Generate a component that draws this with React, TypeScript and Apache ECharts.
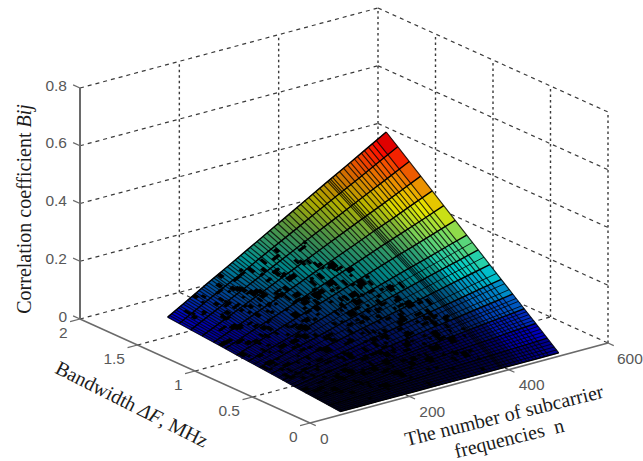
import React, { useEffect, useRef } from "react";
import * as echarts from "echarts";

const nTicks = [0, 200, 400, 600];
const bwTicks = [0, 0.5, 1, 1.5, 2];
const zTicks = [0, 0.2, 0.4, 0.6, 0.8];
const nTickLabels = ["0", "200", "400", "600"];
const bwTickLabels = ["0", "0.5", "1", "1.5", "2"];
const zTickLabels = ["0", "0.2", "0.4", "0.6", "0.8"];

// Surface: columns = number of subcarriers, rows = bandwidth
const surfaceN = [70, 110, 150, 190, 230, 270, 310, 350, 390, 430, 470, 510];
const surfaceBw = [0.04, 0.14, 0.24, 0.34, 0.44, 0.54, 0.64, 0.74, 0.84, 0.94, 1.04, 1.14, 1.24, 1.34, 1.44, 1.54];
const surfaceZ = [
  [0, 0, 0, 0, 0, 0, 0, 0, 0, 0, 0, 0],
  [0.004, 0.006, 0.009, 0.012, 0.014, 0.017, 0.02, 0.022, 0.025, 0.028, 0.03, 0.033],
  [0.008, 0.013, 0.018, 0.023, 0.029, 0.034, 0.039, 0.045, 0.05, 0.055, 0.061, 0.066],
  [0.011, 0.019, 0.027, 0.035, 0.043, 0.051, 0.059, 0.067, 0.075, 0.083, 0.091, 0.099],
  [0.015, 0.026, 0.037, 0.047, 0.058, 0.068, 0.079, 0.09, 0.1, 0.111, 0.121, 0.132],
  [0.019, 0.032, 0.046, 0.059, 0.072, 0.085, 0.099, 0.112, 0.125, 0.138, 0.152, 0.165],
  [0.023, 0.039, 0.055, 0.07, 0.086, 0.102, 0.118, 0.134, 0.15, 0.166, 0.182, 0.198],
  [0.027, 0.045, 0.064, 0.082, 0.101, 0.119, 0.138, 0.157, 0.175, 0.194, 0.212, 0.231],
  [0.03, 0.052, 0.073, 0.094, 0.115, 0.137, 0.158, 0.179, 0.201, 0.221, 0.243, 0.264],
  [0.034, 0.058, 0.082, 0.106, 0.13, 0.154, 0.178, 0.202, 0.226, 0.249, 0.273, 0.297],
  [0.038, 0.065, 0.091, 0.117, 0.144, 0.171, 0.197, 0.224, 0.251, 0.277, 0.303, 0.33],
  [0.042, 0.071, 0.1, 0.129, 0.158, 0.188, 0.217, 0.246, 0.276, 0.304, 0.334, 0.363],
  [0.046, 0.078, 0.11, 0.141, 0.173, 0.205, 0.237, 0.269, 0.301, 0.332, 0.364, 0.396],
  [0.049, 0.084, 0.119, 0.153, 0.187, 0.222, 0.257, 0.291, 0.326, 0.36, 0.394, 0.429],
  [0.053, 0.091, 0.128, 0.164, 0.202, 0.239, 0.276, 0.314, 0.351, 0.387, 0.425, 0.462],
  [0.057, 0.097, 0.137, 0.176, 0.216, 0.256, 0.296, 0.336, 0.376, 0.415, 0.455, 0.495],
];

// Mesh lines of the surface
const meshN = [70, 74, 78, 83, 87, 92, 96, 101, 105, 110, 114, 119, 124, 128, 133, 138, 142, 147, 152, 158, 163, 167, 172, 178, 183, 190, 195, 200, 206, 211, 217, 224, 230, 236, 243, 250, 255, 262, 270, 276, 284, 292, 300, 306, 314, 322, 330, 338, 346, 354, 362, 368, 376, 384, 392, 395, 398, 402, 408, 416, 424, 432, 438, 446, 452, 460, 466, 474, 482, 490, 510];
const extraBw = [0.06, 0.08, 0.1, 0.12, 0.16, 0.18, 0.2, 0.22, 0.26, 0.28, 0.3, 0.32, 0.36, 0.39, 0.41, 0.47, 0.51, 0.58, 0.69, 0.79];
const darkCells = [
  [120,1.45],[158,1.45],[196,1.45],
  [108,1.35],[140,1.35],[172,1.35],[214,1.35],[250,1.35],
  [128,1.27],[165,1.27],[190,1.27],[232,1.27],[272,1.27],
  [100,1.18],[150,1.18],[178,1.18],[208,1.18],[246,1.18],[290,1.18],
  [118,1.09],[136,1.09],[170,1.09],[224,1.09],[262,1.09],[300,1.09],
  [96,1.0],[146,1.0],[192,1.0],[214,1.0],[244,1.0],[282,1.0],[318,1.0],
  [112,0.92],[132,0.92],[176,0.92],[236,0.92],[268,0.92],[302,0.92],
  [92,0.84],[156,0.84],[186,0.84],[210,0.84],[254,0.84],[290,0.84],[332,0.84],
  [120,0.76],[142,0.76],[172,0.76],[226,0.76],[276,0.76],[312,0.76],[350,0.76],
  [104,0.68],[160,0.68],[198,0.68],[244,0.68],[262,0.68],[298,0.68],[336,0.68],
  [90,0.6],[130,0.6],[176,0.6],[216,0.6],[284,0.6],[322,0.6],[366,0.6],
  [112,0.53],[150,0.53],[196,0.53],[238,0.53],[270,0.53],[310,0.53],[352,0.53],
  [98,0.46],[140,0.46],[182,0.46],[228,0.46],[262,0.46],[300,0.46],[344,0.46],[380,0.46],
  [124,0.39],[168,0.39],[206,0.39],[250,0.39],[288,0.39],[330,0.39],[372,0.39],
  [88,0.32],[146,0.32],[190,0.32],[236,0.32],[276,0.32],[318,0.32],[360,0.32],
  [110,0.25],[160,0.25],[214,0.25],[256,0.25],[300,0.25],[346,0.25],
  [130,0.18],[180,0.18],[232,0.18],[280,0.18],[334,0.18],
];
const blockDn = [2.5, 3.5, 5, 2.5, 6, 3, 2.5, 7, 3.5];
const blockDb = [0.012, 0.02, 0.01, 0.018, 0.012, 0.025, 0.01];
const blockShift = [0, 0.022, -0.018, 0.034, -0.03, 0.012, -0.008, 0.026];
const blockSpreadN = [0, 9, -8, 13, -12, 6, -5];
const blockSpreadB = [0, 0.032, -0.036, -0.02, 0.044, -0.05, 0.028];

// How much the dense black mesh dims each region of the surface
const shadeN = [0.85, 0.7, 0.62, 0.6, 0.6, 0.6, 0.62, 0.7, 0.78, 0.9, 1, 1];
const shadeBw = [0.55, 0.5, 0.55, 0.6, 0.62, 0.66, 0.7, 0.74, 0.78, 0.82, 0.86, 0.88, 0.92, 0.96, 1];

const Z_MAX = 0.55;
const origin = [310, 423];
const nVec = [298, -80];
const bwVec = [-230, -104];
const zVec = [0, -231];

function project(n: number, b: number, z: number): number[] {
  const a = n / 600, c = b / 2, d = z / 0.8;
  return [origin[0] + a * nVec[0] + c * bwVec[0] + d * zVec[0], origin[1] + a * nVec[1] + c * bwVec[1] + d * zVec[1]];
}
function locate(arr: number[], v: number): [number, number] {
  let i = 0;
  while (i < arr.length - 2 && v > arr[i + 1]) i++;
  return [i, (v - arr[i]) / (arr[i + 1] - arr[i])];
}
function zAt(n: number, b: number): number {
  const [i, u] = locate(surfaceN, n);
  const [j, v] = locate(surfaceBw, b);
  const r0 = surfaceZ[j], r1 = surfaceZ[j + 1];
  return (r0[i] * (1 - u) + r0[i + 1] * u) * (1 - v) + (r1[i] * (1 - u) + r1[i + 1] * u) * v;
}
function jet(t: number, shade: number): string {
  const f = (x: number) => Math.round(shade * 255 * Math.max(0, Math.min(1, 1.5 - Math.abs(4 * t - x))));
  return `rgb(${f(3)},${f(2)},${f(1)})`;
}
function shadeAt(n: number, b: number): number {
  const [i, u] = locate(surfaceN, n);
  const [j] = locate(surfaceBw, b);
  return (shadeN[i] * (1 - u) + shadeN[i + 1] * u) * shadeBw[j] + (1 - shadeBw[j]) * (n > 430 ? 0.45 : 0);
}

const cells: number[][] = [];
for (let j = 0; j < surfaceBw.length - 1; j++)
  for (let i = 0; i < meshN.length - 1; i++)
    cells.push([meshN[i], surfaceBw[j], meshN[i + 1], surfaceBw[j + 1]]);

type Seg = { value: number[]; stroke: string; w: number; dash?: number[] };
const segs: Seg[] = [];
const GRID = "#3a3a3a";
const addSeg = (a: number[], b: number[], stroke: string, w: number, dash?: number[]) =>
  segs.push({ value: [...a, ...b], stroke, w, dash });
const N0 = nTicks[0], N1 = nTicks[3], B0 = bwTicks[0], B1 = bwTicks[4], Z0 = zTicks[0], Z1 = zTicks[4];
zTicks.forEach((z) => {
  addSeg([N0, B1, z], [N1, B1, z], GRID, 1.2, [4, 4]);
  addSeg([N1, B1, z], [N1, B0, z], GRID, 1.2, [4, 4]);
});
nTicks.slice(1).forEach((n) => {
  addSeg([n, B1, Z0], [n, B1, Z1], GRID, 1.4, [2.5, 3]);
  if (n < N1) addSeg([n, B0, Z0], [n, B1, Z0], GRID, 1.2, [4, 4]);
});
bwTicks.forEach((b) => {
  if (b < B1) addSeg([N1, b, Z0], [N1, b, Z1], GRID, 1.4, [2.5, 3]);
  if (b > B0 && b < B1) addSeg([N0, b, Z0], [N1, b, Z0], GRID, 1.2, [4, 4]);
});

const axisSegs: Seg[] = [];
const AX = "#6a6a6a";
const addAx = (a: number[], b: number[], w: number) => axisSegs.push({ value: [...a, ...b], stroke: AX, w });
addAx([N0, B1, Z0], [N0, B1, Z1], 2);
addAx([N0, B1, Z0], [N0, B0, Z0], 1.6);
addAx([N0, B0, Z0], [N1, B0, Z0], 1.6);
zTicks.forEach((z) => addAx([N0, B1, z], [N0, 2.06, z], 1.2));
bwTicks.forEach((b) => addAx([N0, b, Z0], [-20, b, Z0], 1.2));
nTicks.forEach((n) => addAx([n, B0, Z0], [n, -0.05, Z0], 1.2));

type Lab = { value: number[]; text: string; align: string };
const labels: Lab[] = [
  ...zTicks.map((z, i) => ({ value: [...project(N0, B1, z), -13, -3], text: zTickLabels[i], align: "right" })),
  ...bwTicks.map((b, i) => ({ value: [...project(N0, b, Z0), -12.5, 13.5], text: bwTickLabels[i], align: "right" })),
  ...nTicks.map((n, i) => ({ value: [...project(n, B0, Z0), n === N1 ? 9 : 10, 15], text: nTickLabels[i], align: "left" })),
];

const SERIF = '"Liberation Serif", serif';
const SANS = '"Liberation Sans", Arial, sans-serif';
const titleStyle = { fontFamily: SERIF, fontSize: 20, fill: "#1c1c1c", align: "center", verticalAlign: "middle" };
const italic = { fontFamily: SERIF, fontSize: 20, fontStyle: "italic", fill: "#1c1c1c" };

export default function App() {
  const ref = useRef<HTMLDivElement>(null);
  useEffect(() => {
    if (!ref.current) return;
    const chart = echarts.init(ref.current, undefined, { renderer: "svg" });
    const segSeries = (list: Seg[], z: number) => ({
      type: "custom",
      coordinateSystem: "cartesian2d",
      clip: false,
      z,
      silent: true,
      data: list.map((s) => s.value),
      renderItem: (p: any, api: any) => {
        const s = list[p.dataIndex];
        const a = api.coord(project(s.value[0], s.value[1], s.value[2]));
        const b = api.coord(project(s.value[3], s.value[4], s.value[5]));
        return {
          type: "line",
          shape: { x1: a[0], y1: a[1], x2: b[0], y2: b[1] },
          style: { stroke: s.stroke, lineWidth: s.w, lineDash: s.dash, fill: null },
        };
      },
    });
    const lineSeries = (vals: number[], kind: "n" | "b", w: number, color: string, z: number) => ({
      type: "custom",
      coordinateSystem: "cartesian2d",
      clip: false,
      z,
      silent: true,
      data: vals.map((v) => [v, 0]),
      renderItem: (_: any, api: any) => {
        const v = api.value(0);
        const along = kind === "n" ? surfaceBw : surfaceN;
        const points = along.map((t) =>
          api.coord(kind === "n" ? project(v, t, zAt(v, t)) : project(t, v, zAt(t, v)))
        );
        return { type: "polyline", shape: { points }, style: { stroke: color, lineWidth: w, fill: null } };
      },
    });
    chart.setOption({
      animation: false,
      backgroundColor: "#ffffff",
      grid: { left: 0, right: 0, top: 0, bottom: 0 },
      xAxis: { type: "value", min: 0, max: 643, show: false },
      yAxis: { type: "value", min: 0, max: 461, inverse: true, show: false },
      series: [
        segSeries(segs, 2),
        segSeries(axisSegs, 3),
        {
          type: "custom",
          coordinateSystem: "cartesian2d",
          clip: false,
          z: 4,
          silent: true,
          data: cells,
          renderItem: (_: any, api: any) => {
            const n0 = api.value(0), b0 = api.value(1), n1 = api.value(2), b1 = api.value(3);
            const corners = [[n0, b0], [n1, b0], [n1, b1], [n0, b1]];
            const points = corners.map(([n, b]) => api.coord(project(n, b, zAt(n, b))));
            const c = jet(zAt(n1, b1) / Z_MAX, shadeAt(n0, b0));
            return { type: "polygon", shape: { points }, style: { fill: c, stroke: c, lineWidth: 0.5 } };
          },
        },
        lineSeries(meshN, "n", 1.15, "rgba(0,0,0,0.8)", 5),
        lineSeries(extraBw, "b", 1, "rgba(0,0,0,0.8)", 5),
        lineSeries(surfaceBw, "b", 1.4, "#000000", 6),
        {
          type: "custom",
          coordinateSystem: "cartesian2d",
          clip: false,
          z: 6,
          silent: true,
          data: darkCells,
          renderItem: (p: any, api: any) => {
            const i = p.dataIndex;
            const n = api.value(0), b = api.value(1) + blockShift[i % blockShift.length];
            const children = [0, 1, 2, 3].map((k) => {
              const m = i + k * 3;
              const cn = Math.max(74, Math.min(500, n + blockSpreadN[(i + k) % 7] * k));
              const cb = Math.max(0.06, Math.min(1.52, b + blockSpreadB[(i + k) % 7] * k));
              const dn = blockDn[m % blockDn.length], db = blockDb[m % blockDb.length];
              const corners = [[cn - dn, cb - db], [cn + dn, cb - db], [cn + dn, cb + db], [cn - dn, cb + db]];
              const points = corners.map(([x, y]) => api.coord(project(x, y, zAt(x, y))));
              return { type: "polygon", shape: { points }, style: { fill: "#000000" } };
            });
            return { type: "group", children };
          },
        },
        {
          type: "custom",
          coordinateSystem: "cartesian2d",
          clip: false,
          z: 7,
          silent: true,
          data: labels.map((l) => l.value),
          renderItem: (p: any, api: any) => {
            const l = labels[p.dataIndex];
            const c = api.coord([l.value[0], l.value[1]]);
            return {
              type: "text",
              style: {
                text: l.text,
                x: c[0] + l.value[2],
                y: c[1] + l.value[3],
                align: l.align,
                verticalAlign: "middle",
                fontFamily: SANS,
                fontSize: 15.5,
                fill: "#585858",
              },
            };
          },
        },
      ],
      graphic: [
        {
          type: "text",
          x: 24,
          y: 209,
          rotation: Math.PI / 2,
          style: {
            ...titleStyle,
            text: "Correlation coefficient {i|Bij}",
            rich: { i: italic },
          },
        },
        {
          type: "text",
          x: 132,
          y: 404,
          rotation: -(26.7 * Math.PI) / 180,
          style: {
            ...titleStyle,
            text: "Bandwidth {i|\u0394F}, MHz",
            rich: { i: italic },
          },
        },
        {
          type: "text",
          x: 504,
          y: 415,
          rotation: (13.8 * Math.PI) / 180,
          style: { ...titleStyle, text: "The number of subcarrier" },
        },
        {
          type: "text",
          x: 509,
          y: 438,
          rotation: (13.8 * Math.PI) / 180,
          style: { ...titleStyle, text: "frequencies  n" },
        },
      ],
    } as any);
    return () => chart.dispose();
  }, []);
  return <div ref={ref} style={{ position: "absolute", left: 0, top: 0, width: 643, height: 461 }} />;
}
